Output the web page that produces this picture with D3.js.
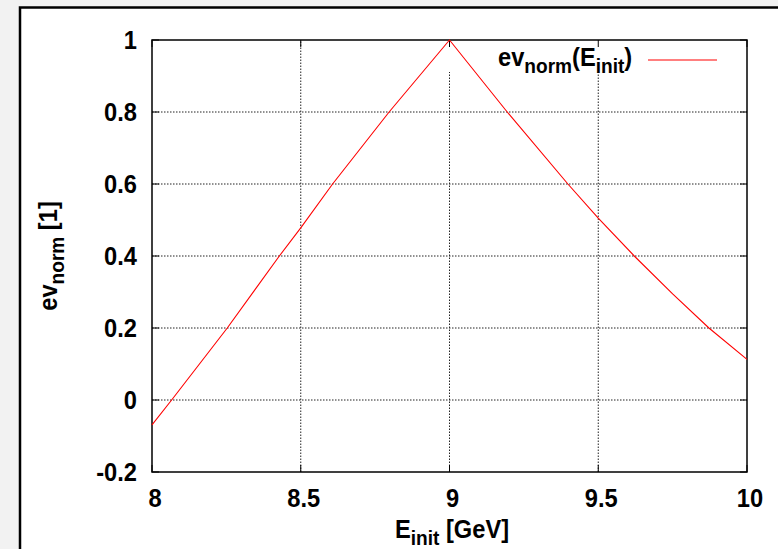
<!DOCTYPE html>
<html><head><meta charset="utf-8">
<script src="https://cdn.jsdelivr.net/npm/d3@7"></script>
<style>body{margin:0;background:#f2f2f2;} svg{display:block;} text{font-family:"Liberation Sans",Arial,sans-serif;font-weight:bold;}</style>
</head><body>
<script>
// data
const energy = [8.0, 8.066, 8.253, 8.428, 8.5, 8.607, 8.797, 9.0, 9.194, 9.398, 9.5, 9.621, 9.75, 9.872, 10.0];
const evNorm = [-0.069, 0.0, 0.2, 0.4, 0.478, 0.6, 0.8, 1.0, 0.8, 0.6, 0.505, 0.4, 0.295, 0.2, 0.113];
const xTicks = [8, 8.5, 9, 9.5, 10];
const yTicks = [-0.2, 0, 0.2, 0.4, 0.6, 0.8, 1];
const xTickLabels = ["8", "8.5", "9", "9.5", "10"];
const yTickLabels = ["-0.2", "0", "0.2", "0.4", "0.6", "0.8", "1"];

const W = 778, H = 549;
const FS = 26, SUB = 21, SX = 0.91;
const svg = d3.select("body").append("svg").attr("width", W).attr("height", H);
svg.append("rect").attr("width", W).attr("height", H).attr("fill", "#f2f2f2");
svg.append("rect").attr("x", 20).attr("y", 7.5).attr("width", 900).attr("height", 700)
  .attr("fill", "#fff").attr("stroke", "#000").attr("stroke-width", 2.5);

const L = 152, R = 747, T = 40, B = 472;
const x = d3.scaleLinear().domain([8, 10]).range([L, R]);
const y = d3.scaleLinear().domain([-0.2, 1]).range([B, T]);

const g = svg.append("g");
const gridStyle = sel => sel.attr("stroke", "#222").attr("stroke-width", 1).attr("stroke-dasharray", "1.5,1.5");
g.selectAll(".gx").data(xTicks.filter(d => d > 8 && d < 10)).enter().append("line")
  .attr("x1", d => x(d)).attr("x2", d => x(d)).attr("y1", B).attr("y2", T).call(gridStyle);
g.selectAll(".gy").data(yTicks.filter(d => d > -0.2 && d < 1)).enter().append("line")
  .attr("x1", L).attr("x2", R).attr("y1", d => y(d)).attr("y2", d => y(d)).call(gridStyle);

// key background (hides grid)
g.append("rect").attr("x", 440).attr("y", T + 1).attr("width", R - 441).attr("height", 31).attr("fill", "#fff");

const tl = 7;
xTicks.forEach(d => {
  g.append("line").attr("x1", x(d)).attr("x2", x(d)).attr("y1", B).attr("y2", B - tl).attr("stroke", "#000");
  g.append("line").attr("x1", x(d)).attr("x2", x(d)).attr("y1", T).attr("y2", T + tl).attr("stroke", "#000");
});
yTicks.forEach(d => {
  g.append("line").attr("x1", L).attr("x2", L + tl).attr("y1", y(d)).attr("y2", y(d)).attr("stroke", "#000");
  g.append("line").attr("x1", R).attr("x2", R - tl).attr("y1", y(d)).attr("y2", y(d)).attr("stroke", "#000");
});

g.append("rect").attr("x", L).attr("y", T).attr("width", R - L).attr("height", B - T)
  .attr("fill", "none").attr("stroke", "#000").attr("stroke-width", 1.5);

// text helper: parts = [[text, isSub], ...]
function label(px, py, anchor, parts, rot) {
  const t = g.append("text")
    .attr("transform", `translate(${px},${py})` + (rot ? ` rotate(${rot})` : "") + ` scale(${SX},1)`)
    .attr("text-anchor", anchor).attr("font-size", FS);
  let sub = false;
  parts.forEach(([s, isSub]) => {
    const sp = t.append("tspan").text(s);
    if (isSub && !sub) { sp.attr("dy", 7).attr("font-size", SUB); sub = true; }
    else if (isSub) { sp.attr("font-size", SUB); }
    else if (!isSub && sub) { sp.attr("dy", -7); sub = false; }
  });
  return t;
}

yTicks.forEach((d, i) => label(137, y(d) + 9, "end", [[yTickLabels[i], false]]));
xTicks.forEach((d, i) => label(x(d) + 3, 507, "middle", [[xTickLabels[i], false]]));

const line = d3.line().x((d, i) => x(energy[i])).y(d => y(d));
g.append("path").datum(evNorm).attr("d", line).attr("fill", "none").attr("stroke", "#ff0000").attr("stroke-width", 1.1);

label(498, 66, "start", [["ev", false], ["norm", true], ["(E", false], ["init", true], [")", false]]);
g.append("line").attr("x1", 648).attr("x2", 717).attr("y1", 60).attr("y2", 60).attr("stroke", "#ff5555").attr("stroke-width", 1.4);

label(452, 538, "middle", [["E", false], ["init", true], [" [GeV]", false]]);
label(57, 256, "middle", [["ev", false], ["norm", true], [" [1]", false]], -90);
</script>
</body></html>
